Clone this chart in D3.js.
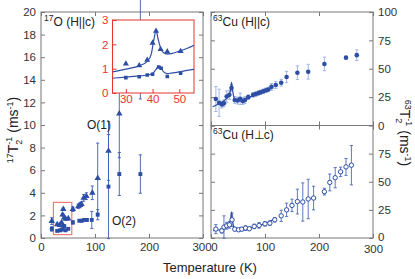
<!DOCTYPE html>
<html>
<head>
<meta charset="utf-8">
<script src="https://cdn.jsdelivr.net/npm/d3@7"></script>
<style>
  body { margin: 0; background: #fff; }
  svg { font-family: "Liberation Sans", Arial, sans-serif; }
</style>
</head>
<body>
<div id="viz"></div>
<script>
// 17O, H||c : O(1) triangles, O(2) squares
const o1Temp = [20, 30, 35, 38, 40, 41.3, 43, 45.5, 50.5, 59, 69, 72, 75, 79, 84, 95, 105, 125, 145, 184];
const o1Rate = [1.5, 1.2, 1.13, 1.36, 2.06, 2.55, 1.8, 1.7, 1.72, 2.55, 2.8, 2.9, 3.0, 3.55, 3.7, 4.0, 5.3, 7.7, 11.0, 24];
const o1Err = [0.3, 0.1, 0.1, 0.1, 0.1, 0.1, 0.1, 0.1, 0.1, 0.2, 0.2, 0.2, 0.2, 0.3, 0.3, 0.6, 3.1, 2.6, 3.9, 11.7];

const o2Temp = [20, 30, 35, 38, 40, 42.3, 43.2, 45.5, 50.5, 59, 71, 75.5, 80, 85, 94, 105, 125, 145, 184];
const o2Rate = [0.8, 0.63, 0.67, 0.74, 0.77, 1.07, 1.02, 0.68, 0.81, 1.38, 1.53, 1.53, 1.6, 1.6, 1.6, 2.06, 4.55, 5.66, 5.66];
const o2Err = [0.2, 0.05, 0.05, 0.05, 0.05, 0.05, 0.05, 0.05, 0.05, 0.15, 0.1, 0.1, 0.1, 0.1, 0.75, 0.45, 4.6, 1.9, 1.7];

// fitted curves in the inset
const insetFitTemp = [25, 30, 35, 38, 39.5, 40.5, 41.3, 42, 43, 44, 45.5, 47, 50, 53, 55.5];
const o1FitRate = [0.87, 0.98, 1.12, 1.3, 1.6, 2.2, 2.57, 2.25, 1.85, 1.66, 1.6, 1.62, 1.72, 1.84, 1.96];
const o2FitRate = [0.61, 0.65, 0.7, 0.74, 0.78, 0.86, 0.97, 1.08, 1.07, 0.88, 0.8, 0.82, 0.87, 0.93, 0.97];

// 63Cu, H||c
const cuParTemp = [9, 15, 20, 24, 29, 34, 38, 44, 49, 54, 59, 63, 69, 78, 83, 88, 92, 97, 102, 106, 112, 120, 130, 140, 160, 180, 210, 250, 270];
const cuParRate = [23.3, 20, 18.5, 19.5, 25.5, 27, 33, 22.5, 22, 23.5, 21.5, 22.5, 25, 27, 27.7, 28.6, 29.3, 30.2, 31, 31.7, 34, 35.7, 37.7, 42.7, 46.5, 47.4, 54.2, 59.8, 62];
const cuParErr = [11, 12, 3, 3, 5, 4, 3, 3, 3, 5, 3, 3, 2, 2, 2, 2, 2, 2, 2, 2, 3, 3, 3, 5, 6, 6.5, 6, 1, 4.7];
const cuParFitTemp = [3, 10, 20, 28, 33, 36, 38, 40, 43, 48, 55, 65, 80, 95, 110];
const cuParFitRate = [16.5, 18, 20.5, 23.5, 26.5, 31, 38, 31, 24, 21.5, 21.5, 23.5, 26.8, 29.8, 33];

// 63Cu, H perp c
const cuPerpTemp = [9, 20, 24, 29, 34, 39, 44, 51, 57, 64, 71, 80, 89, 100, 109, 118, 130, 140, 150, 160, 170, 180, 190, 210, 220, 230, 240, 250, 260];
const cuPerpRate = [7.9, 6.4, 9.7, 10.9, 11.7, 16.2, 7.9, 7.3, 7.9, 8.8, 8.2, 10.3, 11.2, 12.6, 13.2, 16.2, 19.7, 25, 29, 32.4, 32, 34.7, 35.5, 41.2, 49.4, 53.6, 58.8, 63.2, 64.7];
const cuPerpErr = [4, 2, 10, 3, 3, 6, 1.5, 1.5, 1.5, 2, 1.5, 2, 2.5, 2, 2, 2, 5, 6, 5.5, 11, 17, 17.5, 10.5, 3, 7.5, 9, 4.2, 7.5, 17.5];
const cuPerpFitTemp = [4, 20, 28, 33, 36, 38, 40, 43, 50, 60, 80, 100, 120];
const cuPerpFitRate = [6.5, 7.8, 10, 12.5, 16, 23, 15, 9, 7.5, 8, 10, 12.8, 17.5];

// ticks
const tempTicks = [0, 100, 200, 300];
const oTicks = [0, 2, 4, 6, 8, 10, 12, 14, 16, 18, 20];
const cuTicks = [0, 25, 50, 75, 100];
const insetTempTicks = [30, 40, 50];
const insetRateTicks = [0, 1, 2, 3];

const blue = '#2d4ea5';
const frameColor = '#777';
const red = '#e8342c';
const fmt = d3.format('d');

const svg = d3.select('#viz')
  .append('svg')
  .attr('width', 415)
  .attr('height', 279);

const xLeft = d3.scaleLinear().domain([0, 300]).range([41, 203]);
const yLeft = d3.scaleLinear().domain([0, 20]).range([238, 12]);
const xRight = d3.scaleLinear().domain([0, 300]).range([211, 373]);
const yTop = d3.scaleLinear().domain([0, 100]).range([125.5, 12]);
const yBottom = d3.scaleLinear().domain([0, 100]).range([238, 125.5]);
const xInset = d3.scaleLinear().domain([25, 55.5]).range([112.5, 194]);
const yInset = d3.scaleLinear().domain([0, 3]).range([93, 20]);

const pts = (T, v, e) => T.map((t, i) => ({ t, v: v[i], e: e ? e[i] : 0 }));

// ticks point inward, labels optional
const axis = (gen, tx, ty, color, labels, size, pad) => {
  const g = svg.append('g')
    .attr('transform', `translate(${tx},${ty})`)
    .call(gen.tickFormat(fmt).tickSizeInner(-4).tickSizeOuter(0).tickPadding(pad || 5));
  g.select('.domain').remove();
  g.selectAll('line').attr('stroke', color);
  if (labels) {
    g.selectAll('text').attr('fill', color === frameColor ? '#333' : color).attr('font-size', size || 11.5);
  } else {
    g.selectAll('text').remove();
  }
  return g;
};

const frame = (x, y, color, fill) => svg.append('rect')
  .attr('x', x.range()[0])
  .attr('y', y.range()[1])
  .attr('width', x.range()[1] - x.range()[0])
  .attr('height', y.range()[0] - y.range()[1])
  .attr('fill', fill || 'none')
  .attr('stroke', color)
  .attr('stroke-width', 1);

const errorBars = (g, data, x, y, color, cap) => {
  g.append('g')
    .attr('stroke', color)
    .attr('stroke-width', 0.9)
    .attr('fill', 'none')
    .selectAll('path')
    .data(data.filter(d => d.e > 0))
    .enter()
    .append('path')
    .attr('d', d => {
      const px = x(d.t);
      const lo = y(d.v - d.e);
      const hi = y(d.v + d.e);
      return `M${px},${lo}V${hi}M${px - cap},${lo}H${px + cap}M${px - cap},${hi}H${px + cap}`;
    });
};

const markers = (g, data, x, y, type, size) => {
  g.append('g')
    .selectAll('path')
    .data(data)
    .enter()
    .append('path')
    .attr('transform', d => `translate(${x(d.t)},${y(d.v)})`)
    .attr('d', d3.symbol().type(type).size(size))
    .attr('fill', blue);
};

const fitLine = (g, T, v, x, y) => {
  g.append('path')
    .datum(pts(T, v))
    .attr('fill', 'none')
    .attr('stroke', blue)
    .attr('stroke-width', 1.2)
    .attr('d', d3.line().x(d => x(d.t)).y(d => y(d.v)).curve(d3.curveMonotoneX));
};

// ---- frames and axes ----
frame(xLeft, yLeft, frameColor);
frame(xRight, yTop, frameColor);
frame(xRight, yBottom, frameColor);

const leftBottom = axis(d3.axisBottom(xLeft).tickValues(tempTicks), 0, 238, frameColor, true);
axis(d3.axisTop(xLeft).tickValues(tempTicks), 0, 12, frameColor, false);
axis(d3.axisLeft(yLeft).tickValues(oTicks), 41, 0, frameColor, true);
axis(d3.axisRight(yLeft).tickValues(oTicks), 203, 0, frameColor, false);

const rightBottom = axis(d3.axisBottom(xRight).tickValues(tempTicks), 0, 238, frameColor, true);
axis(d3.axisTop(xRight).tickValues(tempTicks), 0, 125.5, frameColor, false);
axis(d3.axisBottom(xRight).tickValues(tempTicks), 0, 125.5, frameColor, false);
axis(d3.axisTop(xRight).tickValues(tempTicks), 0, 12, frameColor, false);
axis(d3.axisRight(yTop).tickValues(cuTicks), 373, 0, frameColor, true);
axis(d3.axisLeft(yTop).tickValues(cuTicks), 211, 0, frameColor, false);
const rightLower = axis(d3.axisRight(yBottom).tickValues(cuTicks.slice(0, 4)), 373, 0, frameColor, true);
axis(d3.axisLeft(yBottom).tickValues(cuTicks), 211, 0, frameColor, false);

// the panels meet: nudge neighbouring labels apart
leftBottom.selectAll('text').filter(d => d === 300).attr('dx', -1.5);
rightBottom.selectAll('text').filter(d => d === 0).attr('dx', 3);
rightBottom.selectAll('text').filter(d => d === 300).attr('dy', '0.85em');
rightLower.selectAll('text').filter(d => d === 0).attr('dy', '0.18em');

// ---- 17O main panel ----
const oPanel = svg.append('g');
const o1 = pts(o1Temp, o1Rate, o1Err);
const o2 = pts(o2Temp, o2Rate, o2Err);

oPanel.append('rect')
  .attr('x', xLeft(23))
  .attr('y', yLeft(3.15))
  .attr('width', xLeft(57) - xLeft(23))
  .attr('height', yLeft(0.3) - yLeft(3.15))
  .attr('fill', 'none')
  .attr('stroke', '#f07a7a')
  .attr('stroke-width', 1.2);

errorBars(oPanel, o1, xLeft, yLeft, '#3d5db5', 1.6);
errorBars(oPanel, o2, xLeft, yLeft, '#3d5db5', 1.6);
markers(oPanel, o1, xLeft, yLeft, d3.symbolTriangle, 18);
markers(oPanel, o2, xLeft, yLeft, d3.symbolSquare, 15);

oPanel.append('text').attr('x', 87).attr('y', 129).attr('font-size', 12).attr('fill', '#222').text('O(1)');
oPanel.append('text').attr('x', 112).attr('y', 225).attr('font-size', 12).attr('fill', '#222').text('O(2)');

// ---- inset ----
frame(xInset, yInset, red, '#fff');
svg.append('clipPath').attr('id', 'insetClip')
  .append('rect')
  .attr('x', 112.5).attr('y', 20).attr('width', 81.5).attr('height', 73);

axis(d3.axisBottom(xInset).tickValues(insetTempTicks), 0, 93, red, true, 11.5, 2);
axis(d3.axisLeft(yInset).tickValues(insetRateTicks), 112.5, 0, red, true, 11.5, 4);

const inset = svg.append('g').attr('clip-path', 'url(#insetClip)');
const inRange = d => d.t >= 25 && d.t <= 55.5;
fitLine(inset, insetFitTemp, o1FitRate, xInset, yInset);
fitLine(inset, insetFitTemp, o2FitRate, xInset, yInset);
markers(inset, o1.filter(inRange), xInset, yInset, d3.symbolTriangle, 16);
markers(inset, o2.filter(inRange), xInset, yInset, d3.symbolSquare, 13);

// ---- 63Cu panels ----
const cuTop = svg.append('g');
const cuPar = pts(cuParTemp, cuParRate, cuParErr);
errorBars(cuTop, cuPar, xRight, yTop, '#9aaee0', 1.6);
fitLine(cuTop, cuParFitTemp, cuParFitRate, xRight, yTop);
cuTop.append('g')
  .selectAll('circle')
  .data(cuPar)
  .enter()
  .append('circle')
  .attr('cx', d => xRight(d.t))
  .attr('cy', d => yTop(d.v))
  .attr('r', 2.3)
  .attr('fill', blue);

const cuBottom = svg.append('g');
const cuPerp = pts(cuPerpTemp, cuPerpRate, cuPerpErr);
errorBars(cuBottom, cuPerp, xRight, yBottom, '#4a6ac0', 1.6);
fitLine(cuBottom, cuPerpFitTemp, cuPerpFitRate, xRight, yBottom);
cuBottom.append('g')
  .selectAll('circle')
  .data(cuPerp)
  .enter()
  .append('circle')
  .attr('cx', d => xRight(d.t))
  .attr('cy', d => yBottom(d.v))
  .attr('r', 2.2)
  .attr('fill', '#fff')
  .attr('stroke', blue)
  .attr('stroke-width', 1);

// ---- titles and axis labels ----
const title = (x, y, iso, rest) => {
  const t = svg.append('text').attr('x', x).attr('y', y).attr('font-size', 12).attr('fill', '#222');
  t.append('tspan').attr('font-size', 8.5).attr('dy', -5).text(iso);
  t.append('tspan').attr('dy', 5).text(rest);
};
title(44, 26, '17', 'O (H||c)');
title(213, 26, '63', 'Cu (H||c)');
title(213, 139, '63', 'Cu (H\u22a5c)');

const rateLabel = (x, y, angle, iso) => {
  const t = svg.append('text')
    .attr('transform', `translate(${x},${y}) rotate(${angle})`)
    .attr('text-anchor', 'middle')
    .attr('font-size', 14)
    .attr('fill', '#222');
  t.append('tspan').attr('font-size', 9).attr('dy', -5).text(iso);
  t.append('tspan').attr('dy', 5).text('T');
  t.append('tspan').attr('font-size', 9).attr('dy', 4).text('2');
  t.append('tspan').attr('font-size', 9).attr('dx', -5).attr('dy', -10).text('-1');
  t.append('tspan').attr('dy', 6).text(' (ms');
  t.append('tspan').attr('font-size', 9).attr('dy', -5).text('-1');
  t.append('tspan').attr('dy', 5).text(')');
};
rateLabel(18, 130, -90, '17');
rateLabel(400, 133, 90, '63');

svg.append('text')
  .attr('x', 210)
  .attr('y', 272)
  .attr('text-anchor', 'middle')
  .attr('font-size', 13)
  .attr('fill', '#222')
  .text('Temperature (K)');
</script>
</body>
</html>
